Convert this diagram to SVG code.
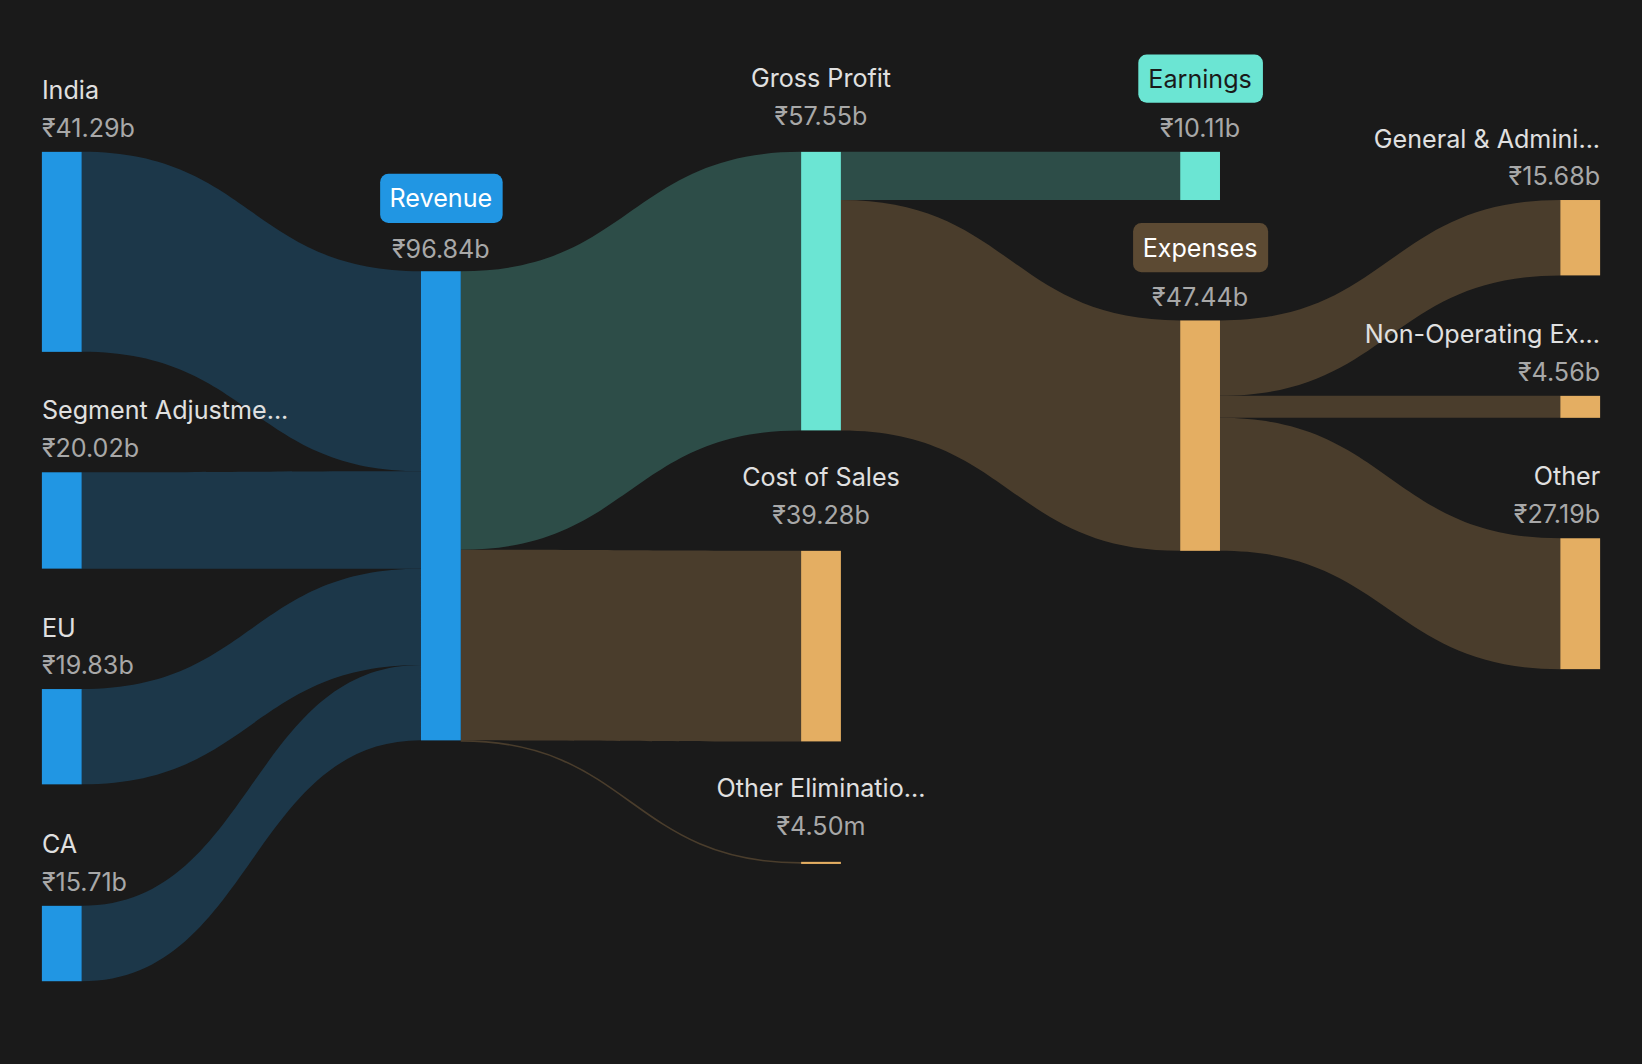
<svg xmlns="http://www.w3.org/2000/svg" width="1642" height="1064" viewBox="0 0 1642 1064">
<style>
.n{font-family:Inter,"Noto Sans","Liberation Sans",sans-serif;font-size:24px;fill:#e0e0e0}
.v{font-family:Inter,"Noto Sans","Liberation Sans",sans-serif;font-size:24px;fill:#a8a8a8}
.m{text-anchor:middle}.e{text-anchor:end}
.lb{fill:#1c3749}.lt{fill:#2d4d48}.lo{fill:#4a3d2c}
.b{fill:#2196e3}.t{fill:#6be5d3}.o{fill:#e4ae62}
</style>
<rect width="1642" height="1064" fill="#1a1a1a"/>
<g transform="scale(1.0472)">
<g id="connectors">
<path class="lb" d="M78,145 C240,145 240,259 402,259 L402,450 C240,450 240,336 78,336 Z"/>
<path class="lb" d="M78,451 C240,451 240,450 402,450 L402,543 C240,543 240,543 78,543 Z"/>
<path class="lb" d="M78,658 C240,658 240,543 402,543 L402,635 C240,635 240,749 78,749 Z"/>
<path class="lb" d="M78,865 C240,865 240,635 402,635 L402,707 C240,707 240,937 78,937 Z"/>
<path class="lt" d="M440,259 C602,259 602,145 765,145 L765,411 C602,411 602,525 440,525 Z"/>
<path class="lo" d="M440,525 C602,525 602,526 765,526 L765,708 C602,708 602,707 440,707 Z"/>
<path d="M440,707.5 C602,707.5 602,824 765,824" fill="none" stroke="#4a3d2c" stroke-width="1.5"/>
<path class="lt" d="M803,145 L1127,145 L1127,191 L803,191 Z"/>
<path class="lo" d="M803,191 C965,191 965,306 1127,306 L1127,526 C965,526 965,411 803,411 Z"/>
<path class="lo" d="M1165,306 C1327,306 1327,191 1490,191 L1490,263 C1327,263 1327,378 1165,378 Z"/>
<path class="lo" d="M1165,378 L1490,378 L1490,399 L1165,399 Z"/>
<path class="lo" d="M1165,399 C1327,399 1327,514 1490,514 L1490,639 C1327,639 1327,526 1165,526 Z"/>
</g>
<g id="india"><rect class="b" x="40" y="145" width="38" height="191"/><text class="n" x="40" y="95">India</text><text class="v" x="40" y="131">₹41.29b</text></g>
<g id="segment"><rect class="b" x="40" y="451" width="38" height="92"/><text class="n" x="40" y="400">Segment Adjustme...</text><text class="v" x="40" y="436">₹20.02b</text></g>
<g id="eu"><rect class="b" x="40" y="658" width="38" height="91"/><text class="n" x="40" y="608">EU</text><text class="v" x="40" y="644">₹19.83b</text></g>
<g id="ca"><rect class="b" x="40" y="865" width="38" height="72"/><text class="n" x="40" y="815">CA</text><text class="v" x="40" y="851">₹15.71b</text></g>
<g id="revenue"><rect class="b" x="402" y="259" width="38" height="448"/><rect class="b" x="363" y="166" width="117" height="47" rx="8"/><text class="n m" x="421" y="198" style="fill:#fff">Revenue</text><text class="v m" x="421" y="246">₹96.84b</text></g>
<g id="grossprofit"><rect class="t" x="765" y="145" width="38" height="266"/><text class="n m" x="784" y="83">Gross Profit</text><text class="v m" x="784" y="119">₹57.55b</text></g>
<g id="costofsales"><rect class="o" x="765" y="526" width="38" height="182"/><text class="n m" x="784" y="464">Cost of Sales</text><text class="v m" x="784" y="500">₹39.28b</text></g>
<g id="otherelim"><rect class="o" x="765" y="823" width="38" height="2"/><text class="n m" x="784" y="761">Other Eliminatio...</text><text class="v m" x="784" y="797">₹4.50m</text></g>
<g id="earnings"><rect class="t" x="1127" y="145" width="38" height="46"/><rect class="t" x="1087" y="52" width="119" height="46" rx="8"/><text class="n m" x="1146" y="84" style="fill:#1a1a1a">Earnings</text><text class="v m" x="1146" y="131">₹10.11b</text></g>
<g id="expenses"><rect class="o" x="1127" y="306" width="38" height="220"/><rect x="1082" y="213" width="129" height="47" rx="8" fill="#5c4a33"/><text class="n m" x="1146" y="245" style="fill:#fff">Expenses</text><text class="v m" x="1146" y="292">₹47.44b</text></g>
<g id="ga"><rect class="o" x="1490" y="191" width="38" height="72"/><text class="n e" x="1528" y="141">General &amp; Admini...</text><text class="v e" x="1528" y="177">₹15.68b</text></g>
<g id="nonop"><rect class="o" x="1490" y="378" width="38" height="21"/><text class="n e" x="1528" y="328">Non-Operating Ex...</text><text class="v e" x="1528" y="364">₹4.56b</text></g>
<g id="other"><rect class="o" x="1490" y="514" width="38" height="125"/><text class="n e" x="1528" y="463">Other</text><text class="v e" x="1528" y="499">₹27.19b</text></g>
</g>
</svg>
